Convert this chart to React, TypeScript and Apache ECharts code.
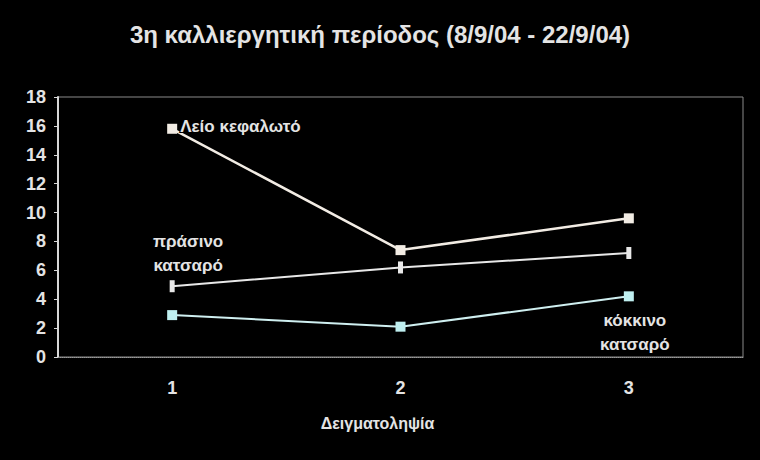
import { useEffect, useRef } from "react";
import * as echarts from "echarts";

const samplings = ["1", "2", "3"];
const smoothHead = [15.8, 7.4, 9.6];
const greenCurly = [4.9, 6.2, 7.2];
const redCurly = [2.9, 2.1, 4.2];
const yTicks = { min: 0, max: 18, interval: 2 };

const FONT = "'Liberation Sans Narrow', 'Liberation Sans', Arial, sans-serif";
const TXT = "#e4e4e4";

export default function App() {
  const chartRef = useRef<HTMLDivElement>(null);

  useEffect(() => {
    if (!chartRef.current) return;
    const chart = echarts.init(chartRef.current, undefined, { renderer: "svg" });

    const labelStyle = {
      show: true,
      color: TXT,
      fontFamily: FONT,
      fontWeight: "bold" as const,
      fontSize: 17,
      lineHeight: 24,
      textBorderColor: "#000",
      textBorderWidth: 2,
    };

    const option = {
      animation: false,
      backgroundColor: "#000",
      title: {
        text: "3η καλλιεργητική περίοδος (8/9/04 - 22/9/04)",
        left: "center",
        top: 17,
        textStyle: { color: TXT, fontFamily: FONT, fontWeight: "bold", fontSize: 24 },
      },
      grid: { left: 58, right: 17, top: 97, bottom: 103, show: true, borderColor: "#8a8a8a", borderWidth: 1 },
      xAxis: {
        type: "category",
        data: samplings,
        boundaryGap: true,
        name: "Δειγματοληψία",
        nameLocation: "middle",
        nameGap: 58,
        nameTextStyle: {
          color: TXT,
          fontFamily: FONT,
          fontWeight: "bold",
          fontSize: 16,
          padding: [0, 46, 0, 0],
        },
        axisLine: { lineStyle: { color: "#9a9a9a", type: "dotted" } },
        axisTick: { show: false },
        axisLabel: { color: TXT, fontFamily: FONT, fontWeight: "bold", fontSize: 18, margin: 22 },
      },
      yAxis: {
        type: "value",
        ...yTicks,
        axisLine: { show: true, lineStyle: { color: "#d8d8d8", width: 2 } },
        axisTick: { show: true, length: 4, lineStyle: { color: "#d8d8d8" } },
        splitLine: { show: false },
        axisLabel: { color: TXT, fontFamily: FONT, fontWeight: "bold", fontSize: 18, margin: 12 },
      },
      series: [
        {
          name: "Λείο κεφαλωτό",
          type: "line",
          data: smoothHead.map((v, i) =>
            i === 0
              ? { value: v, label: { ...labelStyle, position: "right", formatter: "Λείο κεφαλωτό", offset: [-2, -2] } }
              : v
          ),
          symbol: "rect",
          symbolSize: 10,
          itemStyle: { color: "#f2ece4" },
          lineStyle: { color: "#f2ece4", width: 2.5 },
        },
        {
          name: "πράσινο κατσαρό",
          type: "line",
          data: greenCurly.map((v, i) =>
            i === 0
              ? { value: v, label: { ...labelStyle, position: "top", formatter: "πράσινο\nκατσαρό", offset: [16, 2] } }
              : v
          ),
          symbol: "rect",
          symbolSize: [5, 12],
          itemStyle: { color: "#e8e8e8" },
          lineStyle: { color: "#e8e8e8", width: 2 },
        },
        {
          name: "κόκκινο κατσαρό",
          type: "line",
          data: redCurly.map((v, i) =>
            i === 2
              ? { value: v, label: { ...labelStyle, position: "bottom", formatter: "κόκκινο\nκατσαρό", offset: [6, 2] } }
              : v
          ),
          symbol: "rect",
          symbolSize: 10,
          itemStyle: { color: "#bfeff0" },
          lineStyle: { color: "#cfeff0", width: 2 },
        },
      ],
    };

    chart.setOption(option);
    return () => chart.dispose();
  }, []);

  return (
    <div
      ref={chartRef}
      style={{ width: 760, height: 460, position: "absolute", left: 0, top: 0 }}
    />
  );
}
